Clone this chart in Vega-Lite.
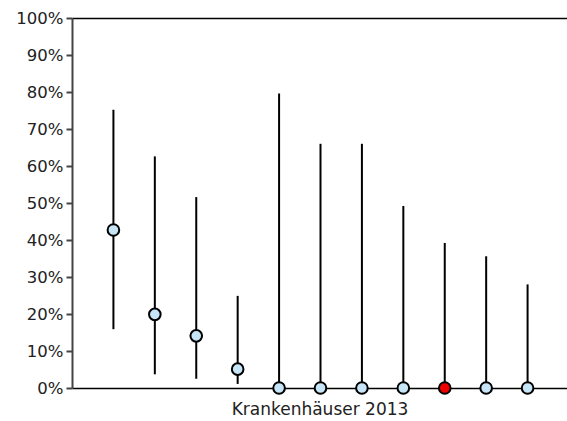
{
  "$schema": "https://vega.github.io/schema/vega-lite/v6.json",
  "width": 497,
  "height": 370,
  "autosize": "none",
  "padding": {"left": 72, "top": 18, "right": 0, "bottom": 33},
  "background": "white",
  "config": {
    "view": {"stroke": null},
    "font": "DejaVu Sans",
    "axis": {"grid": false, "labelFont": "DejaVu Sans", "titleFont": "DejaVu Sans"}
  },
  "data": {
    "values": [
      {"k": 1, "v": 0.427, "lo": 0.159, "hi": 0.752, "hl": "no"},
      {"k": 2, "v": 0.199, "lo": 0.037, "hi": 0.626, "hl": "no"},
      {"k": 3, "v": 0.141, "lo": 0.025, "hi": 0.516, "hl": "no"},
      {"k": 4, "v": 0.051, "lo": 0.011, "hi": 0.249, "hl": "no"},
      {"k": 5, "v": 0.0, "lo": 0.0, "hi": 0.796, "hl": "no"},
      {"k": 6, "v": 0.0, "lo": 0.0, "hi": 0.66, "hl": "no"},
      {"k": 7, "v": 0.0, "lo": 0.0, "hi": 0.66, "hl": "no"},
      {"k": 8, "v": 0.0, "lo": 0.0, "hi": 0.492, "hl": "no"},
      {"k": 9, "v": 0.0, "lo": 0.0, "hi": 0.392, "hl": "yes"},
      {"k": 10, "v": 0.0, "lo": 0.0, "hi": 0.356, "hl": "no"},
      {"k": 11, "v": 0.0, "lo": 0.0, "hi": 0.28, "hl": "no"}
    ]
  },
  "resolve": {"axis": {"x": "independent"}},
  "layer": [
    {
      "mark": {"type": "rule", "color": "black", "strokeWidth": 2},
      "encoding": {
        "x": {
          "field": "k", "type": "quantitative",
          "scale": {"domain": [0, 12]},
          "axis": {"labels": false, "ticks": false, "domainColor": "black", "domainWidth": 1.5,
                   "title": "Krankenhäuser 2013", "titleFontSize": 17, "titleFontWeight": "normal",
                   "titleColor": "#222", "titlePadding": 13, "titleX": 247.5}
        },
        "y": {
          "field": "lo", "type": "quantitative",
          "scale": {"domain": [0, 1], "nice": false},
          "axis": {"format": ".0%", "values": [0, 0.1, 0.2, 0.3, 0.4, 0.5, 0.6, 0.7, 0.8, 0.9, 1],
                   "labelOverlap": false, "labelFontSize": 16.5, "labelColor": "#222",
                   "domainColor": "#444", "domainWidth": 2,
                   "tickColor": "#444", "tickWidth": 2, "tickSize": 6, "labelPadding": 3, "title": null}
        },
        "y2": {"field": "hi"}
      }
    },
    {
      "mark": {"type": "point", "filled": true, "shape": "circle", "size": 135, "stroke": "black", "strokeWidth": 2, "opacity": 1},
      "encoding": {
        "x": {"field": "k", "type": "quantitative",
              "axis": {"orient": "top", "labels": false, "ticks": false, "title": null,
                       "domainColor": "black", "domainWidth": 1.5}},
        "y": {"field": "v", "type": "quantitative",
              "axis": {"format": ".0%", "values": [0, 0.1, 0.2, 0.3, 0.4, 0.5, 0.6, 0.7, 0.8, 0.9, 1],
                       "labelOverlap": false, "labelFontSize": 16.5, "labelColor": "#222",
                       "domainColor": "#444", "domainWidth": 2,
                       "tickColor": "#444", "tickWidth": 2, "tickSize": 6, "labelPadding": 3, "title": null}},
        "fill": {"field": "hl", "type": "nominal", "scale": {"domain": ["no", "yes"], "range": ["#c6e6f8", "#ee0000"]}, "legend": null}
      }
    }
  ]
}
